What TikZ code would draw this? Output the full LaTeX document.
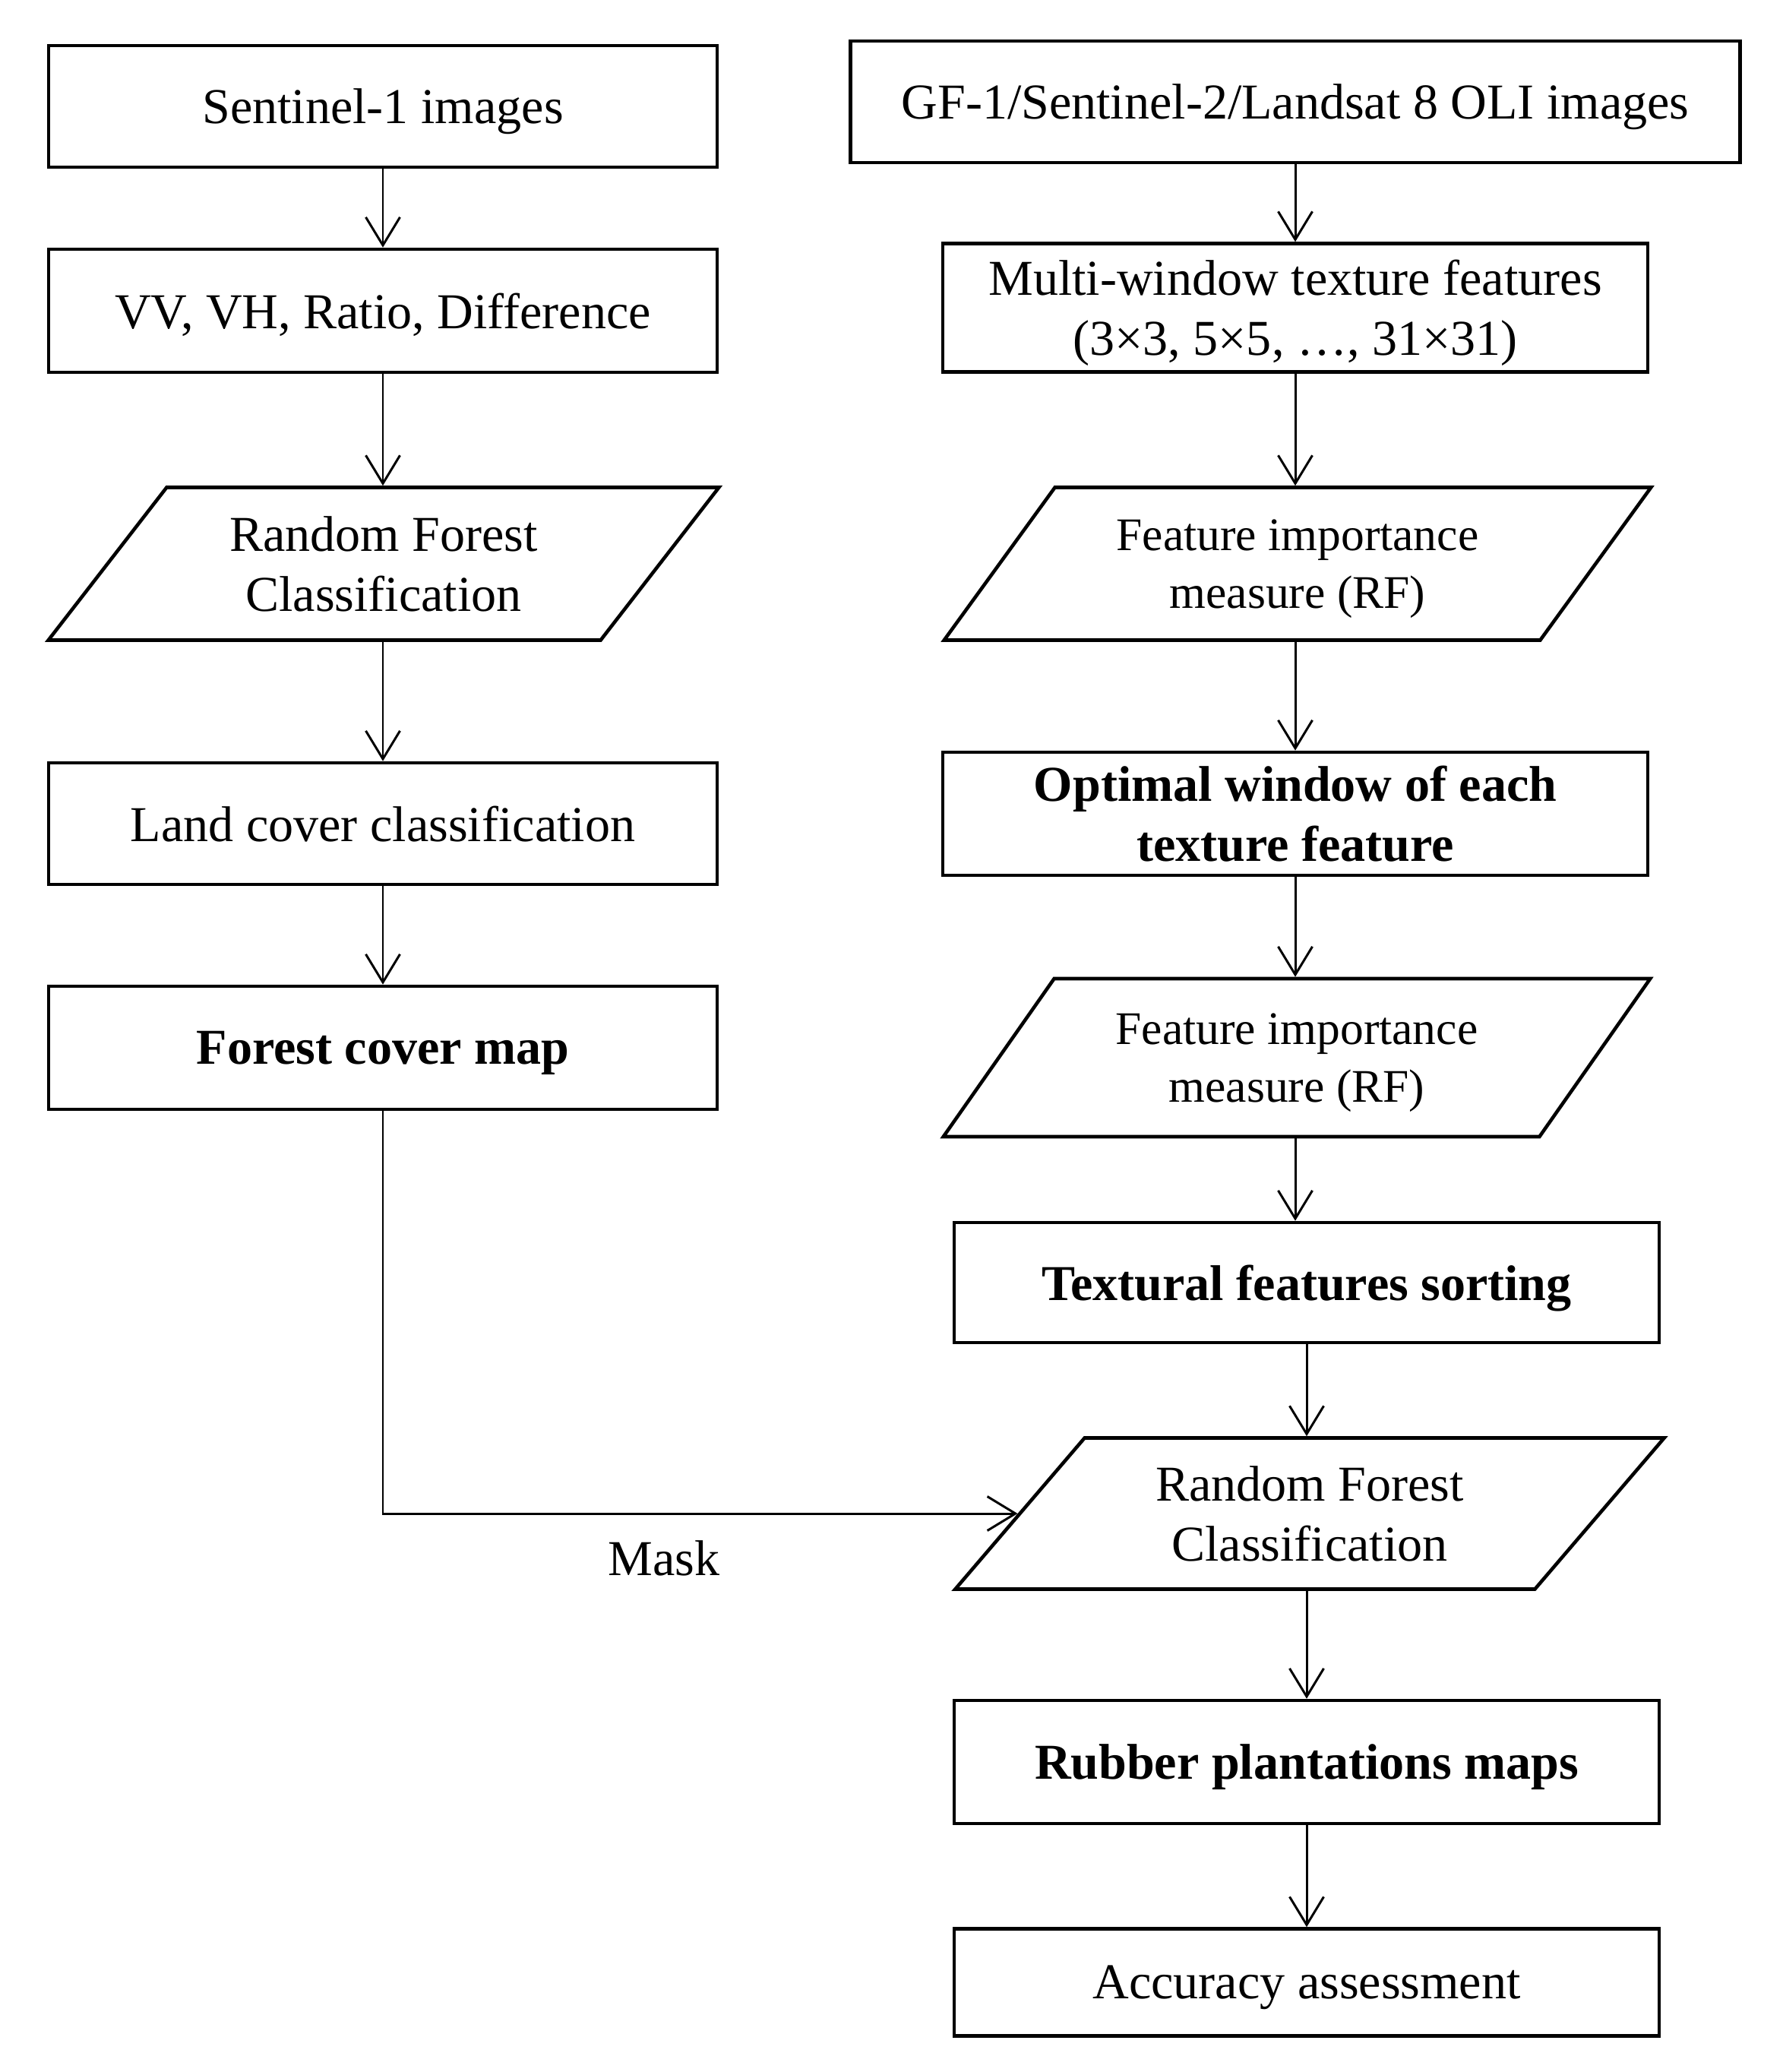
\documentclass[tikz,border=0pt]{standalone}
\usepackage{fontspec}
\setmainfont{Liberation Serif}
\usepackage{tikz}
\usetikzlibrary{shapes.geometric,arrows.meta}
\tikzset{>={Straight Barb[length=3.7mm,width=4.5mm]}}
\tikzset{
  box/.style={draw,line width=1.3pt,rectangle,minimum width=8.8cm,minimum height=1.6cm,align=center,inner sep=0pt,text depth=0pt},
  slantbox/.style={draw,line width=1.3pt,trapezium,trapezium left angle=#1,trapezium right angle=180-#1,
    trapezium stretches=true,minimum width=8.84cm,minimum height=2.01cm,align=center,inner sep=0pt,text depth=0pt},
  slantbox/.default=47,
  flow/.style={->,line width=0.85pt},
  smalltxt/.style={font=\fontsize{17.5pt}{21.6pt}\selectfont}
}

\begin{document}
\begin{tikzpicture}[font=\fontsize{18.8pt}{22.5pt}\selectfont]
      \useasboundingbox (0,0) rectangle (23.46,-27.27);
      % left column (SAR)
      \node[box] (sen1) at (5.04,-1.40) {Sentinel-1 images};
      \node[box,minimum height=1.62cm] (pol) at (5.04,-4.09) {VV, VH, Ratio, Difference};
      \node[slantbox=48.5] (rfleft) at (5.05,-7.42) {Random Forest\\Classification};
      \node[box] (land) at (5.04,-10.84) {Land cover classification};
      \node[box,minimum height=1.62cm] (forest) at (5.04,-13.79) {\bfseries Forest cover map};
      % right column (optical)
      \node[box,minimum width=11.71cm] (optical) at (17.05,-1.34) {GF-1/Sentinel-2/Landsat 8 OLI images};
      \node[box,minimum width=9.28cm,minimum height=1.69cm] (multi) at (17.05,-4.05) {Multi-window texture features\\(3×3, 5×5, …, 31×31)};
      \node[slantbox,smalltxt,minimum width=9.33cm] (fimA) at (17.08,-7.42) {Feature importance\\measure (RF)};
      \node[box,minimum width=9.28cm,minimum height=1.62cm] (optwin) at (17.05,-10.71) {\bfseries Optimal window of each\\\bfseries texture feature};
      \node[slantbox,smalltxt,minimum width=9.33cm,minimum height=2.08cm] (fimB) at (17.07,-13.92) {Feature importance\\measure (RF)};
      \node[box,minimum width=9.28cm,minimum height=1.58cm] (sorting) at (17.20,-16.88) {\bfseries Textural features sorting};
      \node[slantbox,minimum width=9.35cm,minimum height=1.99cm] (rfright) at (17.24,-19.92) {Random Forest\\Classification};
      \node[box,minimum width=9.28cm,minimum height=1.62cm] (rubber) at (17.20,-23.19) {\bfseries Rubber plantations maps};
      \node[box,minimum width=9.28cm,minimum height=1.41cm] (accuracy) at (17.20,-26.09) {Accuracy assessment};
      \node (masklbl) at (8.74,-20.51) {Mask};
      % arrows
      \draw[flow] (sen1) -- (pol);
      \draw[flow] (pol.south) -- (pol.south |- rfleft.north);
      \draw[flow] (rfleft.south -| land.north) -- (land.north);
      \draw[flow] (land) -- (forest);
      \draw[flow] (optical) -- (multi);
      \draw[flow] (multi.south) -- (multi.south |- fimA.north);
      \draw[flow] (fimA.south -| optwin.north) -- (optwin.north);
      \draw[flow] (optwin.south) -- (optwin.south |- fimB.north);
      \draw[flow] (fimB.south -| optwin.south) -- (optwin.south |- sorting.north);
      \draw[flow] (sorting.south) -- (sorting.south |- rfright.north);
      \draw[flow] (rfright.south -| rubber.north) -- (rubber.north);
      \draw[flow] (rubber) -- (accuracy);
      \draw[flow] (forest.south) |- (rfright);
    \end{tikzpicture}
\end{document}
